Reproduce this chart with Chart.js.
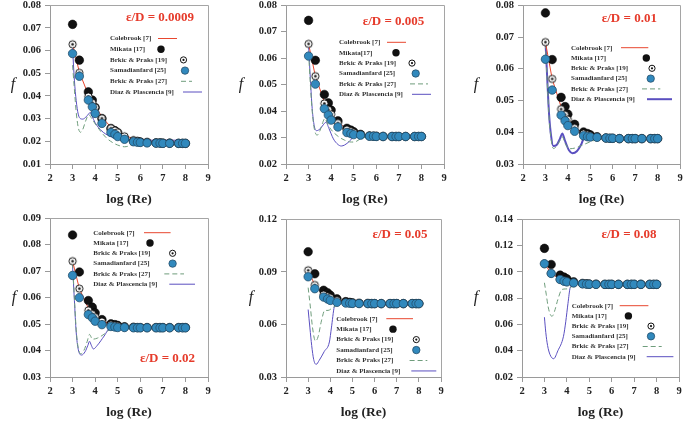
<!DOCTYPE html>
<html><head><meta charset="utf-8">
<script src="https://cdn.jsdelivr.net/npm/chart.js@4.4.1/dist/chart.umd.min.js"></script>
<style>html,body{margin:0;padding:0;background:#fff;width:685px;height:422px;overflow:hidden;position:relative}
canvas{position:absolute}</style></head><body>
<script>
// ---------- DATA ----------
const logRe = [3,3.301,3.699,3.875,4,4.301,4.699,4.875,5,5.301,5.699,5.875,6,6.301,6.699,6.875,7,7.301,7.699,7.875,8];
const xTickVals = [2,3,4,5,6,7,8,9];
const epsLabels = ['ε/D = 0.0009','ε/D = 0.005','ε/D = 0.01','ε/D = 0.02','ε/D = 0.05','ε/D = 0.08'];
const legendNames = ['Colebrook [7]','Mikata [17]','Brkic & Praks [19]','Samadianfard [25]','Brkic & Praks [27]','Diaz & Plascencia [9]'];
const legendNames2 = ['Colebrook [7]','Mikata[17]','Brkic & Praks [19]','Samadianfard [25]','Brkic & Praks [27]','Diaz & Plascencia [9]'];
const yTicks1 = [0.01,0.02,0.03,0.04,0.05,0.06,0.07,0.08];
const yTicks2 = [0.02,0.03,0.04,0.05,0.06,0.07,0.08];
const yTicks3 = [0.03,0.04,0.05,0.06,0.07,0.08];
const yTicks4 = [0.03,0.04,0.05,0.06,0.07,0.08,0.09];
const yTicks5 = [0.03,0.06,0.09,0.12];
const yTicks6 = [0.02,0.04,0.06,0.08,0.10,0.12,0.14];

// panel 1 (0.0009)
const cole1 = [.0630,.0505,.0405,.0378,.0357,.0308,.0262,.0251,.0243,.0227,.0211,.0206,.0203,.0199,.0195,.0194,.0193,.0192,.0191,.0191,.0191];
const mik1  = [.0716,.0558,.0418,.0382,.0349,.0300,.0256,.0247,.0238,.0213,.0201,.0199,.0197,.0195,.0193,.0193,.0192,.0192,.0191,.0191,.0191];
const b19_1 = [.0628,.0502,.0398,.0370,.0350,.0302,.0258,.0248,.0240,.0222,.0205,.0201,.0199,.0196,.0193,.0192,.0192,.0191,.0191,.0191,.0191];
const sam1  = [.0587,.0487,.0382,.0352,.0323,.0279,.0239,.0231,.0221,.0209,.0198,.0196,.0195,.0193,.0192,.0192,.0191,.0191,.0191,.0191,.0191];
const b27x1 = [3,3.08,3.16,3.25,3.35,3.45,3.58,3.72,3.82,3.95,4.2,4.5,4.8,5.1,5.3,5.5,5.7,6,7,8];
const b27y1 = [.0536,.0430,.0330,.0262,.0240,.0252,.0290,.0318,.0305,.0285,.0250,.0215,.0193,.0180,.0176,.0180,.0192,.0193,.0191,.0191];
const dzx1 = [3,3.08,3.16,3.25,3.35,3.45,3.6,3.72,3.78,3.86,4,4.3,4.6,5,5.3,6,7,8];
const dzy1 = [.0610,.0470,.0380,.0320,.0300,.0298,.0308,.0322,.0328,.0312,.0282,.0245,.0225,.0210,.0206,.0205,.0205,.0205];

// panel 2 (0.005)
const cole2 = [.0654,.0532,.0435,.0410,.0392,.0358,.0332,.0325,.0320,.0313,.0308,.0307,.0306,.0305,.0305,.0304,.0304,.0304,.0304,.0304,.0304];
const mik2  = [.0743,.0592,.0463,.0431,.0404,.0363,.0335,.0328,.0322,.0312,.0306,.0305,.0305,.0304,.0304,.0304,.0304,.0304,.0304,.0304,.0304];
const b19_2 = [.0654,.0532,.0429,.0405,.0388,.0355,.0330,.0324,.0319,.0312,.0307,.0306,.0305,.0305,.0304,.0304,.0304,.0304,.0304,.0304,.0304];
const sam2  = [.0608,.0502,.0409,.0385,.0366,.0340,.0319,.0315,.0311,.0309,.0305,.0305,.0304,.0304,.0304,.0304,.0304,.0304,.0304,.0304,.0304];
const b27x2 = [3,3.08,3.16,3.25,3.38,3.5,3.6,3.72,3.85,4.0,4.3,4.6,4.9,5.1,5.3,5.6,6];
const b27y2 = [.0620,.0500,.0400,.0335,.0309,.0325,.0350,.0372,.0350,.0330,.0305,.0290,.0283,.0285,.0295,.0303,.0305];
const dzx2 = [3,3.08,3.16,3.25,3.35,3.5,3.65,3.77,3.9,4.1,4.3,4.45,4.6,4.8,5.0,5.3];
const dzy2 = [.0650,.0520,.0410,.0345,.0326,.0332,.0348,.0358,.0335,.0295,.0274,.0268,.0272,.0285,.0302,.0305];

// panel 3 (0.01)
const cole3 = [.0684,.0568,.0480,.0458,.0442,.0416,.0397,.0393,.0390,.0386,.0383,.0382,.0381,.0381,.0380,.0380,.0380,.0380,.0380,.0380,.0380];
const mik3  = [.0776,.0629,.0510,.0481,.0457,.0425,.0401,.0396,.0392,.0386,.0382,.0381,.0381,.0380,.0380,.0380,.0380,.0380,.0380,.0380,.0380];
const b19_3 = [.0684,.0568,.0473,.0455,.0440,.0414,.0396,.0392,.0389,.0385,.0382,.0381,.0381,.0380,.0380,.0380,.0380,.0380,.0380,.0380,.0380];
const sam3  = [.0630,.0533,.0454,.0436,.0421,.0403,.0389,.0386,.0385,.0384,.0382,.0381,.0381,.0380,.0380,.0380,.0380,.0380,.0380,.0380,.0380];
const b27x3 = [3,3.08,3.16,3.25,3.35,3.5,3.65,3.75,3.88,4.05,4.3,4.6,5.0,5.3,5.6];
const b27y3 = [.0680,.0560,.0450,.0380,.0349,.0356,.0375,.0386,.0365,.0348,.0350,.0358,.0370,.0377,.0380];
const dzx3 = [3,3.08,3.16,3.25,3.35,3.5,3.65,3.75,3.88,4.05,4.2,4.4,4.6,4.75,5.0];
const dzy3 = [.0690,.0570,.0460,.0390,.0357,.0360,.0380,.0396,.0372,.0343,.0334,.0340,.0362,.0386,.0385];

// panel 4 (0.02)
const cole4 = [.0738,.0634,.0560,.0545,.0532,.0513,.0500,.0497,.0494,.0491,.0489,.0488,.0488,.0487,.0487,.0487,.0487,.0487,.0487,.0487,.0487];
const mik4  = [.0837,.0697,.0589,.0564,.0543,.0517,.0501,.0498,.0495,.0490,.0488,.0487,.0487,.0487,.0487,.0487,.0487,.0487,.0487,.0487,.0487];
const b19_4 = [.0738,.0634,.0552,.0538,.0527,.0510,.0498,.0495,.0493,.0490,.0488,.0487,.0487,.0487,.0487,.0487,.0487,.0487,.0487,.0487,.0487];
const sam4  = [.0684,.0600,.0536,.0524,.0511,.0498,.0491,.0489,.0487,.0487,.0486,.0486,.0486,.0486,.0486,.0486,.0486,.0486,.0486,.0486,.0486];
const b27x4 = [3,3.08,3.16,3.25,3.38,3.5,3.65,3.75,3.88,4.1,4.4,4.7,5.0];
const b27y4 = [.0730,.0600,.0480,.0410,.0388,.0400,.0435,.0461,.0443,.0447,.0462,.0482,.0487];
const dzx4 = [3,3.08,3.16,3.25,3.4,3.55,3.68,3.75,3.83,3.92,4.1,4.4,4.7,5.0];
const dzy4 = [.0720,.0590,.0470,.0405,.0383,.0395,.0420,.0435,.0420,.0406,.0420,.0455,.0490,.0488];

// panel 5 (0.05)
const cole5 = [.0909,.0825,.0775,.0765,.0755,.0740,.0728,.0725,.0723,.0721,.0720,.0720,.0719,.0719,.0719,.0719,.0719,.0719,.0719,.0719,.0719];
const mik5  = [.1015,.0889,.0795,.0781,.0767,.0746,.0730,.0726,.0723,.0721,.0720,.0719,.0719,.0719,.0719,.0719,.0719,.0719,.0719,.0719,.0719];
const b19_5 = [.0909,.0825,.0770,.0760,.0752,.0738,.0726,.0724,.0722,.0720,.0719,.0719,.0719,.0719,.0719,.0719,.0719,.0719,.0719,.0719,.0719];
const sam5  = [.0872,.0804,.0756,.0745,.0737,.0726,.0722,.0721,.0720,.0719,.0719,.0719,.0719,.0719,.0719,.0719,.0719,.0719,.0719,.0719,.0719];
const b27x5 = [3,3.1,3.2,3.33,3.45,3.6,3.75,3.9,4.1,4.3,4.5];
const b27y5 = [.0810,.0700,.0580,.0505,.0530,.0620,.0680,.0680,.0695,.0710,.0718];
const dzx5 = [3,3.08,3.16,3.25,3.36,3.5,3.73,3.96,4.05,4.18,4.3];
const dzy5 = [.0685,.0580,.0480,.0400,.0372,.0395,.0446,.0500,.0580,.0700,.0722];

// panel 6 (0.08)
const cole6 = [.1062,.0988,.0945,.0932,.0925,.0916,.0910,.0908,.0907,.0906,.0905,.0905,.0905,.0905,.0905,.0905,.0905,.0905,.0905,.0905,.0905];
const mik6  = [.1179,.1056,.0975,.0960,.0947,.0924,.0912,.0909,.0907,.0906,.0905,.0905,.0905,.0905,.0905,.0905,.0905,.0905,.0905,.0905,.0905];
const b19_6 = [.1062,.0988,.0942,.0930,.0924,.0916,.0910,.0908,.0907,.0906,.0905,.0905,.0905,.0905,.0905,.0905,.0905,.0905,.0905,.0905,.0905];
const sam6  = [.1062,.0988,.0942,.0929,.0924,.0916,.0909,.0907,.0906,.0905,.0905,.0905,.0905,.0905,.0905,.0905,.0905,.0905,.0905,.0905,.0905];
const b27x6 = [3,3.08,3.16,3.25,3.34,3.45,3.6,3.78,3.95,4.08,4.2,4.35];
const b27y6 = [.0917,.0830,.0740,.0680,.0662,.0700,.0790,.0866,.0870,.0873,.0885,.0905];
const dzx6 = [3,3.06,3.14,3.25,3.41,3.6,3.85,3.95,4.05,4.15,4.3];
const dzy6 = [.0655,.0540,.0440,.0370,.0339,.0400,.0510,.0620,.0760,.0880,.0905];

// ---------- LAYOUT / STYLE ----------
const FONT = 'Liberation Serif';
const C_RED = '#e8472f', C_GREEN = '#6f9d7c', C_PURPLE = '#5a4fc0', C_BLUE = '#3189bd', C_BLUE_EDGE = '#234e6b';
const panels = [
 {L:50, R:208, T:5, B:164, yMin:0.01, yMax:0.08, ticks:yTicks1, data:[cole1,mik1,b19_1,sam1,b27x1,b27y1,dzx1,dzy1], eps:epsLabels[0], ex:160, ey:17.5, names:legendNames,
  lx:110, ly:38.5, ldy:10.7, m:{cole:[48,67], mik:51, b19:73.5, sam:75, b27:[71,82], dz:[73,92]}, fOff:37},
 {L:286, R:444, T:5, B:164, yMin:0.02, yMax:0.08, ticks:yTicks2, data:[cole2,mik2,b19_2,sam2,b27x2,b27y2,dzx2,dzy2], eps:epsLabels[1], ex:393.5, ey:21.7, names:legendNames2,
  lx:339, ly:42.3, ldy:10.4, m:{cole:[48,67], mik:57, b19:73, sam:76.7, b27:[71,89], dz:[73,92]}, fOff:45},
 {L:522.7, R:680, T:5, B:164, yMin:0.03, yMax:0.08, ticks:yTicks3, data:[cole3,mik3,b19_3,sam3,b27x3,b27y3,dzx3,dzy3], eps:epsLabels[2], ex:629, ey:19, names:legendNames,
  lx:570.7, ly:47.7, ldy:10.3, m:{cole:[50,77.3], mik:75.3, b19:81, sam:79.7, b27:[71,89.3], dz:[76,101]}, fOff:47, dzW:2},
 {L:50, R:208, T:218, B:377, yMin:0.03, yMax:0.09, ticks:yTicks4, data:[cole4,mik4,b19_4,sam4,b27x4,b27y4,dzx4,dzy4], eps:epsLabels[3], ex:167.5, ey:358.7, names:legendNames,
  lx:93.3, ly:232.7, ldy:10.3, m:{cole:[50.7,77.3], mik:56.7, b19:79.3, sam:79.3, b27:[71,90.7], dz:[76,101.7]}, fOff:36},
 {L:286, R:441, T:219, B:377, yMin:0.03, yMax:0.12, ticks:yTicks5, data:[cole5,mik5,b19_5,sam5,b27x5,b27y5,dzx5,dzy5], eps:epsLabels[4], ex:400, ey:234.3, names:legendNames,
  lx:336.3, ly:318.7, ldy:10.45, m:{cole:[50,76.7], mik:56.7, b19:80, sam:80, b27:[73.3,91], dz:[75,100]}, fOff:35},
 {L:522, R:679, T:219, B:377, yMin:0.02, yMax:0.14, ticks:yTicks6, data:[cole6,mik6,b19_6,sam6,b27x6,b27y6,dzx6,dzy6], eps:epsLabels[5], ex:629, ey:235, names:legendNames,
  lx:571.7, ly:305.7, ldy:10.2, m:{cole:[48,76.7], mik:56.7, b19:79.3, sam:79.3, b27:[71,90], dz:[75,101.7]}, fOff:46}
];
const YW = 50, PT = 10, PR = 8, XH = 46;

// circled-dot marker image
function dotCircle(r) {
  const c = document.createElement('canvas');
  const s = Math.ceil(r*2+3); c.width = s; c.height = s;
  const g = c.getContext('2d');
  g.beginPath(); g.arc(s/2, s/2, r, 0, Math.PI*2); g.fillStyle = '#fff'; g.fill();
  g.lineWidth = 1; g.strokeStyle = '#111'; g.stroke();
  g.beginPath(); g.arc(s/2, s/2, 1.3, 0, Math.PI*2); g.fillStyle = '#111'; g.fill();
  return c;
}
const circImg = dotCircle(3.6);

function drawMarker(ctx, kind, x, y, p) {
  ctx.save();
  if (kind === 'line' || kind === 'dash' || kind === 'dz') {
    const col = kind === 'line' ? C_RED : kind === 'dash' ? C_GREEN : C_PURPLE;
    ctx.strokeStyle = col; ctx.lineWidth = (kind === 'dz' && p.dzW) ? p.dzW : 1;
    if (kind === 'dash') ctx.setLineDash([5,3]);
    ctx.beginPath(); ctx.moveTo(x[0], y); ctx.lineTo(x[1], y); ctx.stroke();
  } else if (kind === 'mik') {
    ctx.beginPath(); ctx.arc(x, y, 3.7, 0, Math.PI*2); ctx.fillStyle = '#111'; ctx.fill();
  } else if (kind === 'b19') {
    ctx.beginPath(); ctx.arc(x, y, 3.1, 0, Math.PI*2); ctx.fillStyle = '#fff'; ctx.fill();
    ctx.lineWidth = 1; ctx.strokeStyle = '#111'; ctx.stroke();
    ctx.beginPath(); ctx.arc(x, y, 1.1, 0, Math.PI*2); ctx.fillStyle = '#111'; ctx.fill();
  } else if (kind === 'sam') {
    ctx.beginPath(); ctx.arc(x, y, 3.7, 0, Math.PI*2); ctx.fillStyle = C_BLUE; ctx.fill();
    ctx.lineWidth = 0.8; ctx.strokeStyle = C_BLUE_EDGE; ctx.stroke();
  }
  ctx.restore();
}

const decor = {
  id: 'decor',
  afterDraw(chart) {
    const p = chart.options.plugins.decor.panel;
    const ctx = chart.ctx, ca = chart.chartArea;
    const cx = p.L - YW, cy = p.T - PT;
    ctx.save();
    // frame top/right
    ctx.strokeStyle = '#a5a5a5'; ctx.lineWidth = 1;
    ctx.beginPath();
    ctx.moveTo(Math.round(ca.left), Math.round(ca.top) + 0.5);
    ctx.lineTo(Math.round(ca.right) + 0.5, Math.round(ca.top) + 0.5);
    ctx.lineTo(Math.round(ca.right) + 0.5, Math.round(ca.bottom));
    ctx.stroke();
    // axis titles
    ctx.fillStyle = '#222';
    ctx.font = 'bold 13.5px "' + FONT + '"';
    ctx.textAlign = 'center'; ctx.textBaseline = 'middle';
    ctx.fillText('log (Re)', (ca.left + ca.right) / 2, ca.bottom + 36);
    ctx.font = 'italic 16px "' + FONT + '"';
    ctx.fillText('f', ca.left - p.fOff, (ca.top + ca.bottom) / 2);
    // eps label
    ctx.fillStyle = '#e63b2b';
    ctx.font = 'bold 13px "' + FONT + '"';
    ctx.fillText(p.eps, p.ex - cx, p.ey - cy);
    // legend
    ctx.font = 'bold 7px "' + FONT + '"';
    ctx.fillStyle = '#333'; ctx.textAlign = 'left';
    const kinds = ['line','mik','b19','sam','dash','dz'];
    const keys = ['cole','mik','b19','sam','b27','dz'];
    for (let i = 0; i < 6; i++) {
      const y = p.ly + i * p.ldy - cy;
      const x0 = p.lx - cx;
      ctx.fillText(p.names[i], x0, y);
      const tw = ctx.measureText(p.names[i]).width;
      const off = p.m[keys[i]];
      let xm;
      if (Array.isArray(off)) {
        const len = off[1] - off[0];
        const s = Math.max(off[0], tw + 5);
        xm = [x0 + s, x0 + s + len];
      } else {
        xm = x0 + Math.max(off, tw + 9);
      }
      drawMarker(ctx, kinds[i], xm, y, p);
    }
    ctx.restore();
  }
};

const pts = (xs, ys) => xs.map((x, i) => ({x, y: ys[i]}));

panels.forEach((p, idx) => {
  const cv = document.createElement('canvas');
  const w = YW + (p.R - p.L) + PR, h = PT + (p.B - p.T) + XH;
  cv.width = Math.round(w); cv.height = Math.round(h);
  cv.style.left = (p.L - YW) + 'px'; cv.style.top = (p.T - PT) + 'px';
  cv.style.width = Math.round(w) + 'px'; cv.style.height = Math.round(h) + 'px';
  document.body.appendChild(cv);
  const [cole, mik, b19, sam, b27x, b27y, dzx, dzy] = p.data;
  new Chart(cv, {
    type: 'scatter',
    data: { datasets: [
      {label: 'Samadianfard [25]', data: pts(logRe, sam), pointRadius: 4.2, pointBackgroundColor: C_BLUE, pointBorderColor: C_BLUE_EDGE, pointBorderWidth: 0.8, showLine: false, order: 1},
      {label: 'Brkic & Praks [19]', data: pts(logRe, b19), pointStyle: circImg, pointRadius: 4, showLine: false, order: 2},
      {label: 'Mikata [17]', data: pts(logRe, mik), pointRadius: 4.3, pointBackgroundColor: '#111', pointBorderColor: '#000', pointBorderWidth: 0.5, showLine: false, order: 3},
      {label: 'Colebrook [7]', data: pts(logRe, cole), showLine: true, borderColor: C_RED, borderWidth: 1, pointRadius: 0, order: 4},
      {label: 'Brkic & Praks [27]', data: pts(b27x, b27y), showLine: true, borderColor: C_GREEN, borderWidth: 1, borderDash: [5,3], pointRadius: 0, cubicInterpolationMode: 'monotone', order: 5},
      {label: 'Diaz & Plascencia [9]', data: pts(dzx, dzy), showLine: true, borderColor: C_PURPLE, borderWidth: p.dzW || 1, pointRadius: 0, cubicInterpolationMode: 'monotone', order: 6}
    ]},
    options: {
      responsive: false, animation: false, devicePixelRatio: 1,
      layout: {padding: {top: PT, right: PR, left: 0, bottom: 0}},
      plugins: {legend: {display: false}, tooltip: {enabled: false}, decor: {panel: p}},
      scales: {
        x: {type: 'linear', min: 2, max: 9,
            afterBuildTicks: s => { s.ticks = xTickVals.map(v => ({value: v})); },
            afterFit: s => { s.height = XH; },
            ticks: {font: {family: FONT, weight: 'bold', size: 10.5}, color: '#222', padding: 3, callback: v => String(v)},
            grid: {drawOnChartArea: false, drawTicks: true, tickLength: 5, color: '#9a9a9a', lineWidth: 1},
            border: {display: true, color: '#9a9a9a', width: 1}},
        y: {type: 'linear', min: p.yMin, max: p.yMax,
            afterBuildTicks: s => { s.ticks = p.ticks.map(v => ({value: v})); },
            afterFit: s => { s.width = YW; },
            ticks: {font: {family: FONT, weight: 'bold', size: 10.5}, color: '#222', padding: 4, callback: v => Number(v).toFixed(2)},
            grid: {drawOnChartArea: false, drawTicks: true, tickLength: 5, color: '#9a9a9a', lineWidth: 1},
            border: {display: true, color: '#9a9a9a', width: 1}}
      }
    },
    plugins: [decor]
  });
});
</script></body></html>
